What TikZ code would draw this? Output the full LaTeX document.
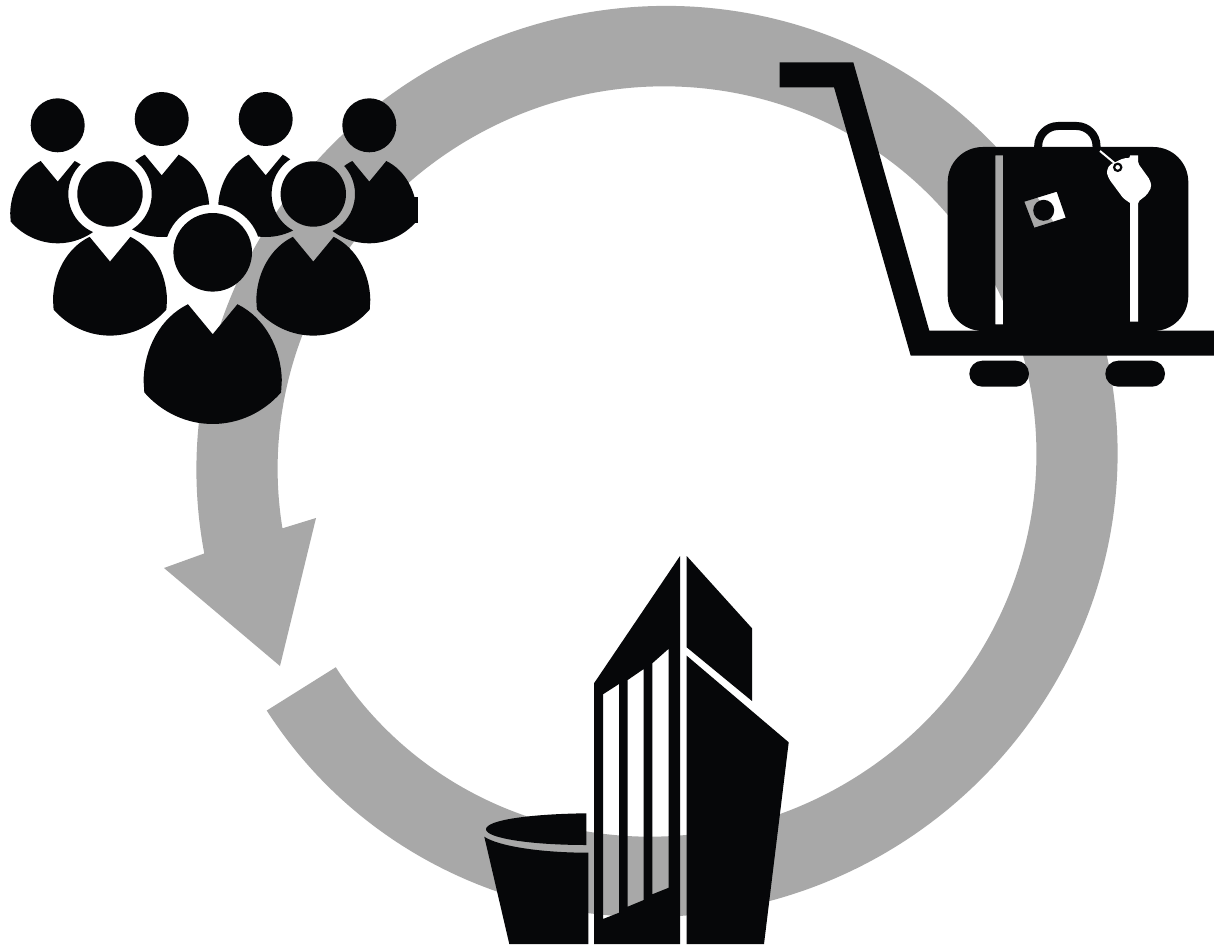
\documentclass[tikz,border=0pt]{standalone}
\definecolor{ink}{HTML}{060709}
\definecolor{band}{HTML}{A8A8A8}
\tikzset{solidink/.style={fill=ink,draw=none},bandfill/.style={fill=band,draw=none}}
\newcommand{\figbody}[3]{%
  \fill[ink,shift={(#1,#2)},scale=#3]
    (0,56.3) -- (17,35.7)
    .. controls (36,45) and (47,66) .. (47.5,88) -- (47,96.3)
    .. controls (35,110) and (18,118) .. (0,118)
    .. controls (-18,118) and (-35,110) .. (-47,96.3) -- (-47.5,88)
    .. controls (-47,66) and (-36,45) .. (-17,35.7) -- cycle;}
\begin{document}
\begin{tikzpicture}[x=1pt,y=1pt,yscale=-1]
\useasboundingbox (0,0) rectangle (1214,944);
\fill[white] (0,0) rectangle (1214,944);
% circular arrow
\coordinate (headin) at (316,518);
\coordinate (headtip) at (280,666);
\coordinate (headout) at (164,568);
\begin{scope}[shift={(657,461.5)},rotate=-30]
\path[bandfill]
  (177.3:381.5 and 373)
  arc[start angle=177.3,end angle=-159.7,x radius=381.5,y radius=373]
  -- (headin) -- (headtip) -- (headout) -- (-161.1:463 and 453)
  arc[start angle=-161.1,end angle=177.4,x radius=463,y radius=453]
  -- cycle;
\end{scope}
% people: back row
\begin{scope}[even odd rule]
\clip (0,0) rectangle (1214,944)
  (110,194) circle (41.7) (313.3,194) circle (41.7) (212.7,252.3) circle (48);
\figbody{57.7}{125.3}{1}
\figbody{161.7}{119}{1}
\figbody{265.7}{119}{1}
\figbody{369.3}{125.3}{1}
\fill[ink] (413,197) rectangle (418.3,223);
\end{scope}
\foreach \hx/\hy in {57.7/125.3,161.7/119,265.7/119,369.3/125.3}
  \fill[ink] (\hx,\hy) circle (27);
% people: middle row
\figbody{110}{194}{1.2}
\figbody{313.3}{194}{1.2}
\fill[ink] (110,194) circle (32.7);
\fill[ink] (313.3,194) circle (32.7);
% people: front
\figbody{212.7}{252.3}{1.455}
\fill[ink] (212.7,252.3) circle (39.3);
% trolley
\path[solidink] (779.7,62.3) -- (853.3,62.3) -- (929.3,330.7) -- (1214,330.7)
  -- (1214,355.7) -- (910.7,355.7) -- (834,87.3) -- (779.7,87.3) -- cycle;
\fill[ink,rounded corners=13] (969.3,360.7) rectangle (1029,386.7);
\fill[ink,rounded corners=13] (1105.3,360.7) rectangle (1165,386.7);
% suitcase
\draw[ink,line width=8,rounded corners=20] (1038.2,150) -- (1038.2,126) -- (1096.5,126) -- (1096.5,150);
\path[solidink,even odd rule]
  [rounded corners=35] (947.7,147) rectangle (1188.3,331)
  [sharp corners]
  (995.3,155.3) rectangle (1003,324.3)
  (1024.3,201.7) -- (1056.7,191.7) -- (1065.7,217.7) -- (1034.3,227.7) -- cycle;
\fill[ink] (1043.7,210.3) circle (10.5);
% tag and strap
\fill[white,rounded corners=2] (1138,155.3) -- (1138,163.3) -- (1150,180) -- (1151.5,187) -- (1146.7,195)
  -- (1138,201.7) [sharp corners] -- (1138,321.7) -- (1130,321.7) -- (1130,203)
  [rounded corners=2] -- (1123.3,198.3) -- (1109,179) -- (1106.5,172) -- (1109.3,165) -- (1123.3,158.3)
  -- (1130,158) [sharp corners] -- (1130,155.3) -- cycle;
\draw[white,line width=2] (1100,151) -- (1115,163.5);
\filldraw[fill=white,draw=ink,line width=2.2] (1117.7,167.3) circle (3.6);
% building
\path[solidink,even odd rule]
  (680,556) -- (680,944) -- (594,944) -- (594,683.3) -- cycle
  (603,694.3) -- (619,684) -- (619,912.7) -- (603,919) -- cycle
  (627.7,680) -- (643.7,669) -- (643.7,900) -- (627.7,906.7) -- cycle
  (652.3,663.3) -- (668.7,648.7) -- (668.7,887.7) -- (652.3,894.3) -- cycle;
\path[solidink] (686.7,556) -- (752,628.3) -- (752,701) -- (686.7,647.3) -- cycle;
\path[solidink] (686.7,655.7) -- (788.7,742.3) -- (764,944) -- (686.7,944) -- cycle;
\path[solidink] (586.3,813.3) .. controls (530,814) and (486,820) .. (486,829.3)
  .. controls (486,838) and (530,845) .. (586.3,845) -- cycle;
\path[solidink] (484.3,836.7) .. controls (498,846) and (540,852.7) .. (588.3,852.7)
  -- (588.3,944) -- (509.3,944) -- cycle;
\end{tikzpicture}
\end{document}
